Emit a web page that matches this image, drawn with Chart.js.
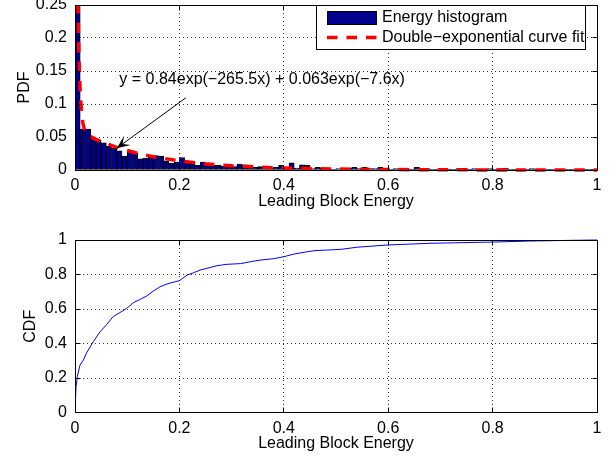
<!DOCTYPE html>
<html>
<head>
<meta charset="utf-8">
<script src="https://cdn.jsdelivr.net/npm/chart.js@4.4.1/dist/chart.umd.min.js"></script>
<style>
  html, body { margin: 0; padding: 0; background: #fff; }
  #wrap { position: relative; width: 611px; height: 461px; }
  canvas { position: absolute; left: 0; }
</style>
</head>
<body>
<div id="wrap">
  <canvas id="pdf" width="611" height="230" style="top:0px"></canvas>
  <canvas id="cdf" width="611" height="231" style="top:230px"></canvas>
</div>
<script>
// bin centres of the energy histogram (bin width 0.01)
const binCentres = [
  0.005, 0.015, 0.025, 0.035, 0.045, 0.055, 0.065, 0.075, 0.085, 0.095,
  0.105, 0.115, 0.125, 0.135, 0.145, 0.155, 0.165, 0.175, 0.185, 0.195,
  0.205, 0.215, 0.225, 0.235, 0.245, 0.255, 0.265, 0.275, 0.285, 0.295,
  0.305, 0.315, 0.325, 0.335, 0.345, 0.355, 0.365, 0.375, 0.385, 0.395,
  0.405, 0.415, 0.425, 0.435, 0.445, 0.455, 0.465, 0.475, 0.485, 0.495,
  0.505, 0.515, 0.525, 0.535, 0.545, 0.555, 0.565, 0.575, 0.585, 0.595,
  0.605, 0.615, 0.625, 0.635, 0.645, 0.655, 0.665, 0.675, 0.685, 0.695,
  0.705, 0.715, 0.725, 0.735, 0.745, 0.755, 0.765, 0.775, 0.785, 0.795,
  0.805, 0.815, 0.825, 0.835, 0.845, 0.855, 0.865, 0.875, 0.885, 0.895,
  0.905, 0.915, 0.925, 0.935, 0.945, 0.955, 0.965, 0.975, 0.985, 0.995
]

// histogram heights (PDF)
const pdfHeights = [
  0.26, 0.062, 0.062, 0.048, 0.045, 0.041, 0.036, 0.033, 0.029, 0.021,
  0.027, 0.026, 0.017, 0.018, 0.022, 0.022, 0.021, 0.014, 0.010, 0.012,
  0.019, 0.013, 0.012, 0.007, 0.012, 0.010, 0.007, 0.007, 0.006, 0.005,
  0.005, 0.009, 0.008, 0.006, 0.004, 0.005, 0.004, 0.002, 0.004, 0.007,
  0.004, 0.011, 0.003, 0.008, 0.007, 0.002, 0.004, 0.003, 0.002, 0.001,
  0.002, 0.002, 0.003, 0.004, 0.002, 0.004, 0.002, 0.002, 0.004, 0.002,
  0.001, 0.002, 0.001, 0.002, 0.001, 0.004, 0.001, 0.002, 0.001, 0.001,
  0.002, 0.001, 0.001, 0.002, 0.001, 0.001, 0.002, 0.001, 0.001, 0.002,
  0.001, 0.002, 0.003, 0.001, 0.001, 0.001, 0.001, 0.002, 0.001, 0.001,
  0.001, 0.001, 0.0005, 0.001, 0.001, 0.0005, 0.001, 0.0005, 0.0005, 0.0005
]

// double-exponential fit curve
const fitX = [0, 0.0025, 0.005, 0.0075, 0.01, 0.0125, 0.015, 0.0175, 0.02, 0.025,
  0.03, 0.04, 0.05, 0.06, 0.08, 0.1, 0.12, 0.15, 0.2, 0.25,
  0.3, 0.35, 0.4, 0.5, 0.6, 0.7, 0.8, 0.9, 1.0]
const fitY = [0.903, 0.494, 0.283, 0.174, 0.1175, 0.0877, 0.0719, 0.0632, 0.0583, 0.0532,
  0.0505, 0.0465, 0.0431, 0.0399, 0.0343, 0.0295, 0.0253, 0.0201, 0.0138, 0.0094,
  0.0064, 0.0044, 0.0030, 0.0014, 0.0007, 0.0003, 0.0001, 0.0001, 0.0000]

// empirical CDF
const cdfX = [0, 0.001, 0.002, 0.0045, 0.0096, 0.016, 0.022, 0.035, 0.048, 0.061,
  0.073, 0.086, 0.099, 0.112, 0.125, 0.137, 0.150, 0.163, 0.176, 0.188,
  0.2, 0.215, 0.227, 0.24, 0.253, 0.272, 0.291, 0.317, 0.336, 0.356,
  0.381, 0.4, 0.42, 0.439, 0.458, 0.484, 0.51, 0.54, 0.598, 0.68,
  0.8, 0.872, 0.95, 1.0]
const cdfY = [0, 0.08, 0.15, 0.21, 0.275, 0.304, 0.345, 0.41, 0.468, 0.511,
  0.556, 0.579, 0.604, 0.637, 0.656, 0.675, 0.704, 0.729, 0.745, 0.755,
  0.764, 0.797, 0.81, 0.826, 0.836, 0.851, 0.859, 0.863, 0.874, 0.884,
  0.892, 0.903, 0.919, 0.929, 0.938, 0.942, 0.946, 0.958, 0.971, 0.981,
  0.988, 0.994, 0.998, 1.0]

const xLabel = 'Leading Block Energy'
const legendLabels = ['Energy histogram', 'Double\u2212exponential curve fit']
const fitText = 'y = 0.84exp(\u2212265.5x) + 0.063exp(\u22127.6x)'

// looks
const FONT_FAMILY = '"Liberation Sans", Arial, Helvetica, sans-serif'
const BAR_FILL = '#00008F'
const FIT_RED = '#FF0000'
const DASH = [10.5, 9]
const TICK_LEN = 5

Chart.defaults.font.family = FONT_FAMILY
Chart.defaults.font.size = 16
Chart.defaults.color = '#000'
Chart.defaults.animation = false

const fmt = v => String(+v.toFixed(3))

// fixed axis sizes so the plot boxes sit where the reference has them
function fixWidth(w) {
  return s => { s.width = w; s.paddingTop = 0; s.paddingBottom = 0; s.paddingLeft = 0; s.paddingRight = 0 }
}
function fixHeight(h) {
  return s => { s.height = h; s.paddingTop = 0; s.paddingBottom = 0; s.paddingLeft = 0; s.paddingRight = 0 }
}

const gridOpts = () => ({ display: true, drawOnChartArea: true, color: '#333', lineWidth: 1, drawTicks: false, offset: false })
const borderOpts = () => ({ display: false, dash: [1, 3] })

// black box + inward ticks (matlab style)
const boxPlugin = {
  id: 'axesBox',
  afterDatasetsDraw(chart) {
    const { ctx, chartArea: a, scales } = chart
    const px = v => Math.floor(v) + 0.5
    const L = px(a.left), R = px(a.right), T = px(a.top), B = px(a.bottom)
    ctx.save()
    ctx.strokeStyle = '#000'
    ctx.lineWidth = 1
    ctx.setLineDash([])
    ctx.beginPath()
    scales.x.ticks.forEach(t => {
      const p = px(scales.x.getPixelForValue(t.value))
      ctx.moveTo(p, B); ctx.lineTo(p, B - TICK_LEN)
      ctx.moveTo(p, T); ctx.lineTo(p, T + TICK_LEN)
    })
    scales.y.ticks.forEach(t => {
      const p = px(scales.y.getPixelForValue(t.value))
      ctx.moveTo(L, p); ctx.lineTo(L + TICK_LEN, p)
      ctx.moveTo(R, p); ctx.lineTo(R - TICK_LEN, p)
    })
    ctx.stroke()
    ctx.strokeRect(L, T, R - L, B - T)
    ctx.restore()
  }
}

// text + arrow pointing at the fit curve (data coordinates)
const annot = { textX: 0.085, textY: 0.137, fromX: 0.2126, fromY: 0.1095, toX: 0.08, toY: 0.033 }

const annotPlugin = {
  id: 'fitAnnot',
  afterDraw(chart) {
    const { ctx, scales: { x, y } } = chart
    ctx.save()
    ctx.fillStyle = '#000'
    ctx.font = '16px ' + FONT_FAMILY
    ctx.textBaseline = 'middle'
    ctx.textAlign = 'left'
    ctx.fillText(fitText, x.getPixelForValue(annot.textX), y.getPixelForValue(annot.textY))

    const x1 = x.getPixelForValue(annot.fromX), y1 = y.getPixelForValue(annot.fromY)
    const x2 = x.getPixelForValue(annot.toX), y2 = y.getPixelForValue(annot.toY)
    ctx.strokeStyle = '#000'
    ctx.lineWidth = 1
    ctx.beginPath()
    ctx.moveTo(x1, y1)
    ctx.lineTo(x2, y2)
    ctx.stroke()
    // vback2 style head
    const ang = Math.atan2(y2 - y1, x2 - x1)
    const len = 13, half = 5.5, notch = 0.55 * len
    const bx = x2 - len * Math.cos(ang), by = y2 - len * Math.sin(ang)
    const nx = x2 - notch * Math.cos(ang), ny = y2 - notch * Math.sin(ang)
    const ox = -Math.sin(ang) * half, oy = Math.cos(ang) * half
    ctx.beginPath()
    ctx.moveTo(x2, y2)
    ctx.lineTo(bx + ox, by + oy)
    ctx.lineTo(nx, ny)
    ctx.lineTo(bx - ox, by - oy)
    ctx.closePath()
    ctx.fill()
    ctx.restore()
  }
}

const legendPlugin = {
  id: 'pdfLegend',
  afterDraw(chart) {
    const ctx = chart.ctx
    ctx.save()
    ctx.fillStyle = '#fff'
    ctx.fillRect(316.5, 5.5, 269, 44)
    ctx.strokeStyle = '#000'
    ctx.lineWidth = 1
    ctx.strokeRect(316.5, 5.5, 269, 44)
    // bar swatch
    ctx.fillStyle = BAR_FILL
    ctx.fillRect(327.5, 11.5, 49, 13)
    ctx.strokeRect(327.5, 11.5, 49, 13)
    // dashed swatch
    ctx.strokeStyle = FIT_RED
    ctx.lineWidth = 3.5
    ctx.setLineDash(DASH)
    ctx.beginPath()
    ctx.moveTo(327, 37.5)
    ctx.lineTo(377, 37.5)
    ctx.stroke()
    ctx.setLineDash([])
    ctx.fillStyle = '#000'
    ctx.font = '16px ' + FONT_FAMILY
    ctx.textBaseline = 'middle'
    ctx.fillText(legendLabels[0], 382, 17.5)
    ctx.fillText(legendLabels[1], 382, 37.5)
    ctx.restore()
  }
}

// top: histogram + fit
new Chart('pdf', {
  type: 'bar',
  data: {
    datasets: [
      {
        type: 'line',
        label: legendLabels[1],
        data: fitX.map((v, i) => ({ x: v, y: fitY[i] })),
        borderColor: FIT_RED,
        borderWidth: 3.5,
        borderDash: DASH,
        pointRadius: 0,
        tension: 0,
        clip: { left: 0, top: 0, right: 0, bottom: 3 },
        order: 0
      },
      {
        label: legendLabels[0],
        data: binCentres.map((v, i) => ({ x: v, y: pdfHeights[i] })),
        backgroundColor: BAR_FILL,
        borderColor: '#000',
        borderWidth: 1,
        borderSkipped: false,
        barPercentage: 1,
        categoryPercentage: 1,
        clip: 0,
        order: 1
      }
    ]
  },
  options: {
    responsive: false,
    layout: { padding: { left: 0, top: 5, right: 14, bottom: 0 } },
    plugins: { legend: { display: false }, tooltip: { enabled: false } },
    scales: {
      x: {
        type: 'linear', min: 0, max: 1, offset: false,
        grid: gridOpts(), border: borderOpts(),
        ticks: { stepSize: 0.2, padding: 6, autoSkip: false, maxRotation: 0, callback: fmt },
        title: { display: true, text: xLabel, padding: { top: 0, bottom: 18.5 } },
        afterFit: fixHeight(60)
      },
      y: {
        type: 'linear', min: 0, max: 0.25,
        grid: gridOpts(), border: borderOpts(),
        ticks: { stepSize: 0.05, padding: 8, autoSkip: false, callback: fmt },
        title: { display: true, text: 'PDF', padding: { top: 14.5, bottom: 0 } },
        afterFit: fixWidth(75)
      }
    }
  },
  plugins: [boxPlugin, annotPlugin, legendPlugin]
})

// bottom: CDF
new Chart('cdf', {
  type: 'line',
  data: {
    datasets: [{
      data: cdfX.map((v, i) => ({ x: v, y: cdfY[i] })),
      borderColor: '#0000FF',
      borderWidth: 1,
      pointRadius: 0,
      tension: 0,
      clip: 1
    }]
  },
  options: {
    responsive: false,
    layout: { padding: { left: 0, top: 10, right: 14, bottom: 0 } },
    plugins: { legend: { display: false }, tooltip: { enabled: false } },
    scales: {
      x: {
        type: 'linear', min: 0, max: 1,
        grid: gridOpts(), border: borderOpts(),
        ticks: { stepSize: 0.2, padding: 6, autoSkip: false, maxRotation: 0, callback: fmt },
        title: { display: true, text: xLabel, padding: { top: 0, bottom: 7.5 } },
        afterFit: fixHeight(48.5)
      },
      y: {
        type: 'linear', min: 0, max: 1,
        grid: gridOpts(), border: borderOpts(),
        ticks: { stepSize: 0.2, padding: 8, autoSkip: false, callback: fmt },
        title: { display: true, text: 'CDF', padding: { top: 20.5, bottom: 0 } },
        afterFit: fixWidth(75)
      }
    }
  },
  plugins: [boxPlugin]
})
</script>
</body>
</html>
